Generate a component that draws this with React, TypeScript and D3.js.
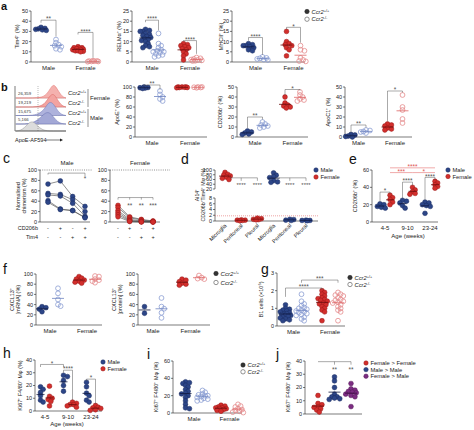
import React from 'react';
import * as d3 from 'd3';

// ---------------- data ----------------
const sexes = ['Male', 'Female'];
const genotypes = ['Ccr2+/+', 'Ccr2-/-'];

// a
const tim4MaleWT = [34, 33, 32.5, 32, 31, 31.5];
const tim4MaleKO = [22, 19, 17, 15, 13, 12, 16];
const tim4FemaleWT = [15, 14, 13.5, 13, 12, 12, 11, 11, 10, 10.5, 12.5, 14];
const tim4FemaleKO = [1, 0.8, 0.5, 0.6, 0.3, 1.2, 0.9];
const relmMaleWT = [16, 15, 15, 14, 13.5, 13, 12.5, 12, 11, 10.5, 10, 9, 8, 7.5, 7, 15.5, 11.5];
const relmMaleKO = [14, 9, 8, 7, 6, 5.5, 5, 4.5, 4, 3.5, 3, 2.5, 5];
const relmFemaleWT = [9, 8.5, 8, 7.5, 7, 6.5, 6, 5, 4, 3, 1];
const relmFemaleKO = [1.5, 1.2, 1, 0.8, 0.6, 0.5, 1.8, 2.2];
const mhcMaleWT = [9, 8.5, 8, 8, 7.5, 7, 6, 5.5];
const mhcMaleKO = [2.5, 2, 1.8, 1.5, 1.2, 1];
const mhcFemaleWT = [15, 10, 9, 8.5, 8, 7, 6, 3];
const mhcFemaleKO = [8, 6, 5.5, 2, 1, 0.5, 0.3];

// b
const histCounts = ['26,359', '19,219', '15,675', '5,166'];
const histRowGenotype = ['Ccr2+/+', 'Ccr2-/-', 'Ccr2+/+', 'Ccr2-/-'];
const histFemaleWT = [0, 0, 0, 0, 0, 0.02, 0.05, 0.15, 0.5, 1, 0.55, 0.1, 0];
const histFemaleKO = [0, 0, 0, 0, 0, 0.03, 0.08, 0.25, 0.7, 0.95, 0.45, 0.08, 0];
const histMaleWT = [0, 0, 0, 0, 0.02, 0.08, 0.2, 0.5, 0.95, 0.8, 0.3, 0.05, 0];
const histMaleKO = [0, 0, 0, 0.03, 0.1, 0.25, 0.5, 0.8, 0.85, 0.5, 0.15, 0.02, 0];
const histControl = [0, 0.05, 0.3, 0.8, 1, 0.6, 0.2, 0.05, 0, 0, 0, 0, 0];
const apoeMaleWT = [100, 99, 98, 97, 98.5];
const apoeMaleKO = [92, 85, 80, 76, 72];
const apoeFemaleWT = [100, 99.5, 99, 100, 98.5, 99, 100];
const apoeFemaleKO = [100, 99, 99.5, 98.5, 100];
const cd206bMaleWT = [6, 5, 4, 3, 2.5];
const cd206bMaleKO = [15, 13, 12, 11, 10, 9];
const cd206bFemaleWT = [40, 34, 32, 31, 30, 29];
const cd206bFemaleKO = [45, 42, 40, 38, 37, 36];
const apoc1MaleWT = [2.5, 2, 1, 0.5, 0];
const apoc1MaleKO = [7, 6.5, 5.5, 5, 4];
const apoc1FemaleWT = [13, 12, 11, 9, 8, 7];
const apoc1FemaleKO = [42, 30, 27, 18, 14];

// c
const chimConditions = ['c1', 'c2', 'c3', 'c4'];
const cd206bSigns = ['-', '+', '-', '+'];
const tim4Signs = ['-', '-', '+', '+'];
const chimMale = [
  [73, 79, 49, 30],
  [55, 53, 43, 20],
  [52, 50, 36, 11],
  [41, 25, 22, 9],
  [38, 24, 22, 8],
];
const chimFemale = [
  [32, 10, 5, 2],
  [28, 8, 4, 1],
  [22, 5, 2, 1],
  [18, 3, 1, 0.5],
  [14, 2, 0.5, 0],
  [10, 1, 0, 0],
];

// d
const ai14Cats = ['Microglia', 'Peritoneal', 'Pleural'];
const ai14Female = [
  [90, 82, 78, 75, 70, 65, 60],
  [0.3, 0.2, 0.4, 0.1, 0.3],
  [0.8, 0.5, 1.0, 0.4, 0.6],
];
const ai14Male = [
  [88, 78, 72, 68, 55, 50, 48],
  [0.5, 0.3, 0.6, 0.2],
  [0.2, 0.1, 0.3, 0.2],
];
const ai14Threshold = 1.8;

// e
const ages = ['4-5', '9-10', '23-24'];
const cd206bAgeMale = [
  [21, 20, 18, 17, 16],
  [25, 24, 22, 19, 16],
  [23, 22, 20, 19, 18, 10],
];
const cd206bAgeFemale = [
  [31, 28, 26, 23, 20],
  [40, 37, 35, 33, 32],
  [47, 45, 43, 41, 39],
];

// f
const cxclMrnaMaleWT = [36, 34, 31, 26];
const cxclMrnaMaleKO = [72, 62, 50, 40, 37];
const cxclMrnaFemaleWT = [95, 92, 90, 88, 86, 84, 82];
const cxclMrnaFemaleKO = [96, 95, 90, 88, 86, 83];
const cxclProtMaleWT = [36, 23];
const cxclProtMaleKO = [53, 36, 32, 24, 14];
const cxclProtFemaleWT = [90, 88, 85, 82, 80, 78];
const cxclProtFemaleKO = [97, 93, 91, 90];

// g
const b1MaleWT = [1.2, 1.0, 0.95, 0.9, 0.85, 0.8, 0.75, 0.7, 0.65, 0.6, 0.55, 0.5, 0.45, 0.4, 0.35, 0.3, 0.6, 0.7];
const b1MaleKO = [1.8, 1.4, 1.25, 1.15, 1.05, 1.0, 0.95, 0.9, 0.85, 0.8, 0.75, 0.7, 0.65, 0.6, 0.5, 0.4, 0.3];
const b1FemaleWT = [2.0, 1.9, 1.8, 1.7, 1.6, 1.55, 1.5, 1.45, 1.4, 1.3, 1.25, 1.2, 1.1, 1.0, 0.9, 0.8, 0.3];
const b1FemaleKO = [1.9, 1.8, 1.75, 1.7, 1.6, 1.5, 1.45, 1.4, 1.35, 1.3, 1.2, 1.1, 1.0, 0.9, 0.8, 0.3];

// h
const ki67AgeMale = [
  [19, 17, 14.5, 12, 8.5, 7],
  [28, 27, 24, 20, 15.5],
  [22.5, 19, 14, 12, 8.5, 7],
];
const ki67AgeFemale = [
  [19.5, 11.5, 10, 9, 7.5, 4],
  [7, 6, 5, 5, 4, 3],
  [4.3, 3, 2.5, 2, 1, 0.5],
];

// i
const ki67MaleWT = [36, 35, 34, 32, 30, 27, 25, 23, 22, 20, 18, 14, 10, 6, 5];
const ki67MaleKO = [26, 24, 22, 21, 20, 19, 18, 17, 16, 15, 14, 20];
const ki67FemaleWT = [9, 8, 7, 6, 6, 5, 5, 4, 3, 2];
const ki67FemaleKO = [10, 8, 7, 5, 4, 3, 2, 1, 0.5];

// j
const transferGroups = ['Female > Female', 'Male > Male', 'Female > Male'];
const ki67Transfer = [
  [14, 8, 7, 5.5, 5, 4, 3, 1.5],
  [28, 25, 20, 15, 13, 12, 11, 11.5, 13],
  [23, 19, 18, 17, 16.5, 16, 15, 14, 13, 5.6],
];

// ---------------- styles ----------------
const FONT = '"Liberation Sans", Arial, Helvetica, sans-serif';
const NAVY = '#2c4587';
const NAVY_S = '#1a2c63';
const LBLUE = '#8b9ed3';
const RED = '#d22f2c';
const RED_S = '#9a1717';
const PINK = '#e58a8b';
const PURPLE = '#7c2d82';
const PURPLE_S = '#561a5b';
const AX = '#222';

type Sty = { fill?: string; stroke: string; open?: boolean; line: string };
const sNavy: Sty = { fill: NAVY, stroke: NAVY_S, line: '#111a40' };
const sLBlue: Sty = { open: true, stroke: LBLUE, line: '#6f84c0' };
const sRed: Sty = { fill: RED, stroke: RED_S, line: '#6a0c0c' };
const sPink: Sty = { open: true, stroke: PINK, line: '#d66' };
const sPurple: Sty = { fill: PURPLE, stroke: PURPLE_S, line: '#3a0d3e' };
const sBlack: Sty = { fill: '#333', stroke: '#222', line: '#222' };
const sGrey: Sty = { open: true, stroke: '#666', line: '#666' };

// ---------------- helpers ----------------
function swarm(vals: number[], cx: number, y: (v: number) => number, r: number) {
  const pts = vals.map((v) => ({ v, py: y(v) })).sort((a, b) => a.py - b.py);
  const placed: { x: number; y: number }[] = [];
  const minD = r * 1.25;
  const step = r * 0.55;
  const maxK = 8;
  for (const p of pts) {
    let bestX = cx;
    let bestD = -1;
    for (let k = 0; k <= maxK; k++) {
      const off = k === 0 ? 0 : (k % 2 ? 1 : -1) * Math.ceil(k / 2) * step;
      const cand = cx + off;
      const d = placed.length ? Math.min(...placed.map((q) => Math.hypot(q.x - cand, q.y - p.py))) : Infinity;
      if (d >= minD) {
        bestX = cand;
        bestD = d;
        break;
      }
      if (d > bestD) {
        bestD = d;
        bestX = cand;
      }
    }
    placed.push({ x: bestX, y: p.py });
  }
  return placed;
}

function Dots({ vals, cx, y, c, r = 2.4, mean = true, mw = 6 }: any) {
  const pts = swarm(vals, cx, y, r);
  const m = d3.mean(vals) as number;
  return (
    <g>
      {pts.map((p, i) => (
        <circle key={i} cx={p.x} cy={p.y} r={r} fill={c.open ? 'none' : c.fill} stroke={c.stroke} strokeWidth={c.open ? 0.8 : 0.5} />
      ))}
      {mean && <line x1={cx - mw} x2={cx + mw} y1={y(m)} y2={y(m)} stroke={c.line} strokeWidth={0.8} />}
    </g>
  );
}

function YAxis({ x, y, ticks, fmt = (d: number) => String(d) }: any) {
  const ext = d3.extent(ticks as number[]) as [number, number];
  return (
    <g>
      <line x1={x} x2={x} y1={y(ext[0])} y2={y(ext[1])} stroke={AX} strokeWidth={0.6} />
      {ticks.map((t: number) => (
        <g key={t}>
          <line x1={x - 2} x2={x} y1={y(t)} y2={y(t)} stroke={AX} strokeWidth={0.6} />
          <text x={x - 3} y={y(t)} dy="0.35em" textAnchor="end" fontSize={5.5} fill="#222">
            {fmt(t)}
          </text>
        </g>
      ))}
    </g>
  );
}

function YLabel({ x, y, lines, fs = 5.5 }: any) {
  return (
    <text transform={`translate(${x},${y}) rotate(-90)`} textAnchor="middle" fontSize={fs} fill="#222">
      {lines.map((l: string, i: number) => (
        <tspan key={i} x={0} dy={i === 0 ? -(lines.length - 1) * 3.3 : 6.6}>
          {l}
        </tspan>
      ))}
    </text>
  );
}

function Bracket({ x1, x2, yy, y1e, y2e, text, color = '#555', tx }: any) {
  return (
    <g>
      <path d={`M${x1},${y1e}V${yy}H${x2}V${y2e}`} fill="none" stroke={color} strokeWidth={0.5} />
      {text && (
        <text x={tx ?? (x1 + x2) / 2} y={yy + 1.2} textAnchor="middle" fontSize={6.5} fill={color}>
          {text}
        </text>
      )}
    </g>
  );
}

function GenoLabel({ g }: { g: string }) {
  const sup = g.replace('Ccr2', '');
  return (
    <>
      <tspan fontStyle="italic">Ccr2</tspan>
      <tspan dy={-2} fontSize={3.8}>
        {sup}
      </tspan>
    </>
  );
}

function Legend({ x, y, items, dy = 7, fs = 5.8 }: any) {
  return (
    <g>
      {items.map((it: any, i: number) => (
        <g key={i}>
          <circle cx={x} cy={y + i * dy} r={2.2} fill={it.s.open ? 'white' : it.s.fill} stroke={it.s.stroke} strokeWidth={it.s.open ? 0.7 : 0.5} />
          <text x={x + 4.5} y={y + i * dy} dy="0.35em" fontSize={fs} fill="#222">
            {it.geno ? <GenoLabel g={it.label} /> : it.label}
          </text>
        </g>
      ))}
    </g>
  );
}

function sexGenoX(centers: [number, number], off: number) {
  const s = d3.scalePoint<string>().domain(sexes).range(centers);
  const out: number[] = [];
  sexes.forEach((sx) => genotypes.forEach((_, gi) => out.push((s(sx) as number) + (gi === 0 ? -off : off))));
  return { xs: out, cats: sexes.map((sx) => ({ text: sx, x: s(sx) as number })) };
}

function ageSexX(range: [number, number], off: number) {
  const s = d3.scalePoint<string>().domain(ages).range(range);
  const out: number[] = [];
  ages.forEach((a) => sexes.forEach((_, si) => out.push((s(a) as number) + (si === 0 ? -off : off))));
  return { xs: out, cats: ages.map((a) => ({ text: a, x: s(a) as number })) };
}

function DotPanel({ axisX, xEnd, yTop, yBot, max, ticks, xs, cats, groups, sigs = [], ylabel, ylx, fmt, mw = 6 }: any) {
  const y = d3.scaleLinear().domain([0, max]).range([yBot, yTop]);
  return (
    <g>
      <YAxis x={axisX} y={y} ticks={ticks} fmt={fmt} />
      <line x1={axisX} x2={xEnd} y1={yBot} y2={yBot} stroke={AX} strokeWidth={0.6} />
      {cats.map((c: any, i: number) => (
        <text key={i} x={c.x} y={yBot + 8} textAnchor="middle" fontSize={6} fill="#222">
          {c.text}
        </text>
      ))}
      {groups.map((g: any, i: number) => (
        <Dots key={i} vals={g.vals} cx={xs[i]} y={y} c={g.s} mw={mw} />
      ))}
      {sigs.map((s: any, i: number) => (
        <Bracket key={i} x1={xs[s.a]} x2={xs[s.b]} yy={y(s.v)} y1e={y(s.ea)} y2e={y(s.eb)} text={s.text} color={s.color} />
      ))}
      <YLabel x={ylx} y={(yTop + yBot) / 2} lines={ylabel} />
    </g>
  );
}

function PanelLetter({ x, y, t, bold = false, fs = 14 }: any) {
  return (
    <text x={x} y={y} fontSize={fs} fontWeight={bold ? 'bold' : 'normal'} fill="#111">
      {t}
    </text>
  );
}

// ---------------- panel b histogram ----------------
function Histogram() {
  const x0 = 15;
  const x1 = 66;
  const kx = d3.scaleLinear().domain([0, histFemaleWT.length - 1]).range([x0 + 1, x1]);
  const rows = [
    { d: histFemaleWT, base: 98, h: 15, fill: '#f4b1ae', stroke: '#e06a66' },
    { d: histFemaleKO, base: 107, h: 15, fill: '#f2a3a0', stroke: '#d9605c' },
    { d: histMaleWT, base: 115.5, h: 15, fill: '#aeb2dc', stroke: '#6d74b6' },
    { d: histMaleKO, base: 124, h: 14, fill: '#a3a8d6', stroke: '#666eb0' },
  ];
  const ctrl = { d: histControl, base: 131, h: 10, fill: '#dcdcdc', stroke: '#999' };
  const mk = (r: any) =>
    d3
      .area<number>()
      .x((_, i) => kx(i))
      .y0(r.base)
      .y1((v) => r.base - v * r.h)
      .curve(d3.curveBasis)(r.d) as string;
  return (
    <g>
      {rows.map((r, i) => (
        <g key={i}>
          <line x1={x0} x2={x1} y1={r.base} y2={r.base} stroke="#999" strokeWidth={0.4} />
        </g>
      ))}
      {rows.map((r, i) => (
        <path key={'p' + i} d={mk(r)} fill={r.fill} stroke={r.stroke} strokeWidth={0.5} />
      ))}
      <path d={mk(ctrl)} fill={ctrl.fill} stroke={ctrl.stroke} strokeWidth={0.5} />
      <line x1={38} x2={38} y1={86} y2={131} stroke="#777" strokeWidth={0.5} strokeDasharray="1,1" />
      <line x1={x0} x2={x0} y1={86} y2={131} stroke={AX} strokeWidth={0.6} />
      <line x1={x0} x2={x1} y1={131} y2={131} stroke={AX} strokeWidth={0.6} />
      {histCounts.map((c, i) => (
        <text key={c} x={18} y={rows[i].base - 3} fontSize={4.3} fill="#333">
          {c}
        </text>
      ))}
      {histRowGenotype.map((g, i) => (
        <text key={i} x={68} y={93 + i * 10} dy="0.35em" fontSize={6} fill="#222">
          <GenoLabel g={g} />
        </text>
      ))}
      <line x1={88} x2={88} y1={89} y2={107} stroke="#222" strokeWidth={0.5} />
      <line x1={88} x2={88} y1={109} y2={127} stroke="#222" strokeWidth={0.5} />
      <text x={90} y={98} dy="0.35em" fontSize={6} fill="#222">Female</text>
      <text x={90} y={118} dy="0.35em" fontSize={6} fill="#222">Male</text>
      <text x={15} y={142} fontSize={5.5} fill="#222">ApoE-AF594</text>
      <line x1={46} x2={60} y1={140} y2={140} stroke="#222" strokeWidth={0.6} />
      <path d="M60,138.6 L63,140 L60,141.4 Z" fill="#222" />
    </g>
  );
}

// ---------------- panel c ----------------
function ChimPanel({ axisX, xEnd, range, data, s, title, titleX, dotEnd, sig }: any) {
  const y = d3.scaleLinear().domain([0, 100]).range([222, 170]);
  const x = d3.scalePoint<string>().domain(chimConditions).range(range);
  const line = d3
    .line<number>()
    .x((_, i) => x(chimConditions[i]) as number)
    .y((v) => y(v));
  return (
    <g>
      <YAxis x={axisX} y={y} ticks={[0, 20, 40, 60, 80, 100]} />
      <line x1={axisX} x2={xEnd} y1={222} y2={222} stroke={AX} strokeWidth={0.6} />
      <line x1={axisX} x2={dotEnd} y1={y(100)} y2={y(100)} stroke="#444" strokeWidth={0.6} strokeDasharray="1,1.2" />
      <text x={titleX} y={165} textAnchor="middle" fontSize={6} fill="#222">{title}</text>
      {data.map((d: number[], i: number) => (
        <path key={i} d={line(d) as string} fill="none" stroke="#444" strokeWidth={0.6} />
      ))}
      {data.map((d: number[], i: number) =>
        d.map((v, j) => <circle key={i + '-' + j} cx={x(chimConditions[j])} cy={y(v)} r={2.4} fill={s.fill} stroke={s.stroke} strokeWidth={0.5} />)
      )}
      {sig.kind === 'single' && (
        <g>
          <path d={`M${x('c1')},${y(sig.v) + 1.5}V${y(sig.v)}H${x('c4')}V${y(sig.ve)}`} fill="none" stroke="#555" strokeWidth={0.5} />
          <text x={x('c4')} y={y(sig.sv) + 1.2} textAnchor="middle" fontSize={6.5} fill="#555">{sig.text}</text>
        </g>
      )}
      {sig.kind === 'multi' && (
        <g>
          <path d={`M${x('c1')},${y(sig.ve)}V${y(sig.v)}H${x('c4')}`} fill="none" stroke="#555" strokeWidth={0.5} />
          {['c2', 'c3', 'c4'].map((k, i) => (
            <g key={k}>
              <line x1={x(k)} x2={x(k)} y1={y(sig.v)} y2={y(sig.ve)} stroke="#555" strokeWidth={0.5} />
              <text x={x(k)} y={y(sig.sv) + 1.2} textAnchor="middle" fontSize={6.5} fill="#555">{sig.texts[i]}</text>
            </g>
          ))}
        </g>
      )}
      {chimConditions.map((k, i) => (
        <g key={k}>
          <text x={x(k)} y={228} dy="0.35em" textAnchor="middle" fontSize={5.5} fill="#222">{cd206bSigns[i]}</text>
          <text x={x(k)} y={237} dy="0.35em" textAnchor="middle" fontSize={5.5} fill="#222">{tim4Signs[i]}</text>
        </g>
      ))}
    </g>
  );
}

// ---------------- panel d ----------------
function Ai14Panel() {
  const axisX = 215;
  const yT = d3.scaleLinear().domain([20, 100]).range([189, 170]);
  const yB = d3.scaleLinear().domain([0, 8]).range([221, 198]);
  const yv = (v: number) => (v > 10 ? yT(v) : yB(v));
  const keys: string[] = [];
  ['F', 'M'].forEach((s) => ai14Cats.forEach((c) => keys.push(s + c)));
  const x = d3.scalePoint<string>().domain(keys).range([225, 306]);
  const groups = [
    ...ai14Female.map((vals) => ({ vals, s: sRed })),
    ...ai14Male.map((vals) => ({ vals, s: sNavy })),
  ];
  const brk = (k0: string, k1: string, k2: string) => {
    const yy = yT(67);
    return (
      <g>
        <path d={`M${(x(k0) as number) + 5},${yy}H${x(k2)}`} stroke="#555" strokeWidth={0.5} fill="none" />
        {[k1, k2].map((k) => (
          <g key={k}>
            <line x1={x(k)} x2={x(k)} y1={yy} y2={yy + 3} stroke="#555" strokeWidth={0.5} />
            <text x={x(k)} y={yy + 9} textAnchor="middle" fontSize={6} fill="#555">****</text>
          </g>
        ))}
      </g>
    );
  };
  return (
    <g>
      <YAxis x={axisX} y={yT} ticks={[20, 40, 60, 80, 100]} />
      <YAxis x={axisX} y={yB} ticks={[0, 2, 4, 6, 8]} />
      <line x1={axisX} x2={318} y1={yB(0)} y2={yB(0)} stroke={AX} strokeWidth={0.6} />
      <line x1={axisX} x2={318} y1={yB(ai14Threshold)} y2={yB(ai14Threshold)} stroke="#e06666" strokeWidth={0.6} strokeDasharray="1,1" />
      {groups.map((g, i) => (
        <Dots key={i} vals={g.vals.map(yv)} cx={x(keys[i])} y={(p: number) => p} c={g.s} mean={false} />
      ))}
      {groups.map((g, i) => {
        const m = d3.mean(g.vals) as number;
        return <line key={'m' + i} x1={(x(keys[i]) as number) - 6} x2={(x(keys[i]) as number) + 6} y1={yv(m)} y2={yv(m)} stroke={g.s.line} strokeWidth={0.8} />;
      })}
      {brk('FMicroglia', 'FPeritoneal', 'FPleural')}
      {brk('MMicroglia', 'MPeritoneal', 'MPleural')}
      {keys.map((k, i) => (
        <text key={k} transform={`translate(${(x(k) as number) + 2},${226}) rotate(-45)`} textAnchor="end" fontSize={5.5} fill="#222">
          {ai14Cats[i % 3]}
        </text>
      ))}
      <YLabel x={202} y={195} lines={['Ai14⁺', 'CD206b⁺Tim4⁺ Mφ (%)']} fs={5.2} />
      <Legend x={316} y={170} items={[{ label: 'Male', s: sNavy }, { label: 'Female', s: sRed }]} />
    </g>
  );
}

// ---------------- panel j ----------------
function TransferPanel() {
  const axisX = 305;
  const y = d3.scaleLinear().domain([0, 40]).range([414, 361]);
  const x = d3.scalePoint<string>().domain(transferGroups).range([318, 351]);
  const styles = [sRed, sNavy, sPurple];
  const yy = y(39.5);
  return (
    <g>
      <YAxis x={axisX} y={y} ticks={[0, 10, 20, 30, 40]} />
      <line x1={axisX} x2={362} y1={414} y2={414} stroke={AX} strokeWidth={0.6} />
      {transferGroups.map((g, i) => (
        <Dots key={g} vals={ki67Transfer[i]} cx={x(g)} y={y} c={styles[i]} />
      ))}
      <path d={`M${x(transferGroups[0])},${yy}H${x(transferGroups[2])}`} stroke="#555" strokeWidth={0.5} fill="none" />
      {transferGroups.slice(1).map((g) => (
        <g key={g}>
          <line x1={x(g)} x2={x(g)} y1={yy} y2={yy + 3} stroke="#555" strokeWidth={0.5} />
          <text x={x(g)} y={y(32.4) + 1.2} textAnchor="middle" fontSize={6.5} fill="#555">**</text>
        </g>
      ))}
      <YLabel x={290} y={387} lines={['Ki67⁺ F4/80⁺ Mφ (%)']} />
      <Legend x={366} y={363} dy={6.6} items={transferGroups.map((g, i) => ({ label: g, s: styles[i] }))} />
    </g>
  );
}

// ---------------- App ----------------
export default function App() {
  const a1 = sexGenoX([48.5, 85.5], 7.5);
  const a2 = sexGenoX([152, 190], 6.5);
  const a3 = sexGenoX([255.5, 293.5], 7);
  const bApoE = sexGenoX([152, 190], 8);
  const bCd = sexGenoX([255, 292.5], 7.5);
  const bApoC = sexGenoX([358.5, 395], 7.5);
  const f1 = sexGenoX([50, 87], 8);
  const f2 = sexGenoX([153, 190.5], 8.5);
  const gg = sexGenoX([293.5, 330], 8);
  const ii = sexGenoX([194, 229.5], 8.5);
  const ee = ageSexX([385, 430], 5);
  const hh = ageSexX([45, 91], 4.5);
  const four = (a: number[], b: number[], c: number[], d: number[]) => [
    { vals: a, s: sNavy },
    { vals: b, s: sLBlue },
    { vals: c, s: sRed },
    { vals: d, s: sPink },
  ];
  const byAge = (m: number[][], f: number[][]) => {
    const out: any[] = [];
    ages.forEach((_, i) => {
      out.push({ vals: m[i], s: sNavy });
      out.push({ vals: f[i], s: sRed });
    });
    return out;
  };
  const ccrLegend = [
    { label: genotypes[0], s: sBlack, geno: true },
    { label: genotypes[1], s: sGrey, geno: true },
  ];
  const sexLegend = [
    { label: 'Male', s: sNavy },
    { label: 'Female', s: sRed },
  ];
  return (
    <svg width={474} height={430} style={{ position: 'absolute', left: 0, top: 0, background: 'white' }} fontFamily={FONT}>
      <rect width={474} height={430} fill="white" />
      {/* a */}
      <PanelLetter x={1} y={10} t="a" bold fs={11} />
      <DotPanel axisX={31} xEnd={100} yTop={11} yBot={62} max={50} ticks={[0, 10, 20, 30, 40, 50]} xs={a1.xs} cats={a1.cats}
        groups={four(tim4MaleWT, tim4MaleKO, tim4FemaleWT, tim4FemaleKO)}
        sigs={[{ a: 0, b: 1, v: 41, ea: 38.5, eb: 25, text: '**' }, { a: 2, b: 3, v: 29, ea: 27, eb: 4, text: '****' }]}
        ylabel={['Tim4⁺ (%)']} ylx={19} />
      <DotPanel axisX={132} xEnd={202} yTop={11} yBot={62} max={25} ticks={[0, 5, 10, 15, 20, 25]} xs={a2.xs} cats={a2.cats}
        groups={four(relmMaleWT, relmMaleKO, relmFemaleWT, relmFemaleKO)}
        sigs={[{ a: 0, b: 1, v: 20.5, ea: 19.5, eb: 15.5, text: '****' }, { a: 2, b: 3, v: 10.5, ea: 10, eb: 4, text: '****' }]}
        ylabel={['RELMα⁺ (%)']} ylx={121} />
      <DotPanel axisX={232} xEnd={305} yTop={11} yBot={62} max={25} ticks={[0, 5, 10, 15, 20, 25]} xs={a3.xs} cats={a3.cats}
        groups={four(mhcMaleWT, mhcMaleKO, mhcFemaleWT, mhcFemaleKO)}
        sigs={[{ a: 0, b: 1, v: 12, ea: 10.5, eb: 3.5, text: '****' }, { a: 2, b: 3, v: 17, ea: 16, eb: 9.5, text: '*' }]}
        ylabel={['MHCII⁺ (%)']} ylx={223} />
      <Legend x={307} y={11.5} dy={7.7} items={ccrLegend} />

      {/* b */}
      <PanelLetter x={1} y={91} t="b" bold fs={11} />
      <Histogram />
      <DotPanel axisX={135} xEnd={207} yTop={87} yBot={137} max={100} ticks={[0, 20, 40, 60, 80, 100]} xs={bApoE.xs} cats={bApoE.cats}
        groups={four(apoeMaleWT, apoeMaleKO, apoeFemaleWT, apoeFemaleKO)}
        sigs={[{ a: 0, b: 1, v: 104, ea: 102, eb: 95, text: '**' }]}
        ylabel={['ApoE⁺ (%)']} ylx={119} />
      <DotPanel axisX={237} xEnd={308} yTop={87} yBot={137} max={50} ticks={[0, 10, 20, 30, 40, 50]} xs={bCd.xs} cats={bCd.cats}
        groups={four(cd206bMaleWT, cd206bMaleKO, cd206bFemaleWT, cd206bFemaleKO)}
        sigs={[{ a: 0, b: 1, v: 20, ea: 9, eb: 17.5, text: '**' }, { a: 2, b: 3, v: 47.5, ea: 42, eb: 46.5, text: '*' }]}
        ylabel={['CD206b⁺ (%)']} ylx={222} />
      <DotPanel axisX={345} xEnd={412} yTop={87} yBot={137} max={50} ticks={[0, 10, 20, 30, 40, 50]} xs={bApoC.xs} cats={bApoC.cats}
        groups={four(apoc1MaleWT, apoc1MaleKO, apoc1FemaleWT, apoc1FemaleKO)}
        sigs={[{ a: 0, b: 1, v: 12, ea: 4.5, eb: 9.5, text: '**' }, { a: 2, b: 3, v: 46, ea: 15.5, eb: 44.5, text: '*' }]}
        ylabel={['ApoC1⁺ (%)']} ylx={330} />

      {/* c */}
      <PanelLetter x={3} y={163} t="c" />
      <YLabel x={23} y={196} lines={['Normalised', 'chimerism (%)']} />
      <ChimPanel axisX={40} xEnd={90} range={[48, 85]} data={chimMale} s={sNavy} title="Male" titleX={67} dotEnd={92}
        sig={{ kind: 'single', v: 94, ve: 88, sv: 82, text: '*' }} />
      <ChimPanel axisX={110} xEnd={160} range={[118, 153]} data={chimFemale} s={sRed} title="Female" titleX={140} dotEnd={170}
        sig={{ kind: 'multi', v: 47, ve: 43, sv: 29, texts: ['**', '**', '***'] }} />
      <text x={38} y={228} dy="0.35em" textAnchor="end" fontSize={5.5} fill="#222">CD206b</text>
      <text x={38} y={237} dy="0.35em" textAnchor="end" fontSize={5.5} fill="#222">Tim4</text>

      {/* d */}
      <PanelLetter x={181} y={164} t="d" />
      <Ai14Panel />

      {/* e */}
      <PanelLetter x={349} y={164} t="e" />
      <DotPanel axisX={372} xEnd={438} yTop={170} yBot={222} max={60} ticks={[0, 20, 40, 60]} xs={ee.xs} cats={ee.cats}
        groups={byAge(cd206bAgeMale, cd206bAgeFemale)}
        sigs={[
          { a: 0, b: 1, v: 34.5, ea: 24, eb: 32.5, text: '*' },
          { a: 2, b: 3, v: 46, ea: 27, eb: 42, text: '****' },
          { a: 4, b: 5, v: 51.5, ea: 25, eb: 48.5, text: '****' },
          { a: 1, b: 5, v: 62.5, ea: 62.5, eb: 62.5, text: '****', color: '#e05555' },
          { a: 1, b: 3, v: 57, ea: 57, eb: 57, text: '***', color: '#e05555' },
          { a: 3, b: 5, v: 57, ea: 57, eb: 57, text: '*', color: '#e05555' },
        ]}
        ylabel={['CD206b⁺ (%)']} ylx={357} mw={4} />
      <text x={408} y={238} textAnchor="middle" fontSize={6} fill="#222">Age (weeks)</text>
      <Legend x={448} y={170} dy={6.5} items={sexLegend} />

      {/* f */}
      <PanelLetter x={3} y={274} t="f" />
      <DotPanel axisX={36} xEnd={102} yTop={274} yBot={325} max={100} ticks={[0, 20, 40, 60, 80, 100]} xs={f1.xs} cats={f1.cats}
        groups={four(cxclMrnaMaleWT, cxclMrnaMaleKO, cxclMrnaFemaleWT, cxclMrnaFemaleKO)}
        ylabel={['CXCL13⁺', '[mRNA] (%)']} ylx={17} />
      <DotPanel axisX={138} xEnd={210} yTop={274} yBot={325} max={100} ticks={[0, 20, 40, 60, 80, 100]} xs={f2.xs} cats={f2.cats}
        groups={four(cxclProtMaleWT, cxclProtMaleKO, cxclProtFemaleWT, cxclProtFemaleKO)}
        ylabel={['CXCL13⁺', '[protein] (%)']} ylx={119} />
      <Legend x={216} y={273.5} dy={9} fs={6.2} items={ccrLegend} />

      {/* g */}
      <PanelLetter x={261} y={274} t="g" />
      <DotPanel axisX={277} xEnd={345} yTop={273} yBot={326} max={3} ticks={[0, 1, 2, 3]} xs={gg.xs} cats={gg.cats}
        groups={four(b1MaleWT, b1MaleKO, b1FemaleWT, b1FemaleKO)}
        sigs={[
          { a: 0, b: 2, v: 2.15, ea: 1.65, eb: 2.05, text: '****' },
          { a: 1, b: 3, v: 2.6, ea: 2.45, eb: 2.45, text: '***' },
        ]}
        ylabel={['B1 cells (×10⁵)']} ylx={263} />
      <Legend x={350} y={277.5} dy={7} items={ccrLegend} />

      {/* h */}
      <PanelLetter x={3} y={358} t="h" />
      <DotPanel axisX={35} xEnd={102} yTop={360} yBot={411} max={40} ticks={[0, 10, 20, 30, 40]} xs={hh.xs} cats={hh.cats}
        groups={byAge(ki67AgeMale, ki67AgeFemale)}
        sigs={[
          { a: 0, b: 2, v: 36.5, ea: 34.5, eb: 34.5, text: '*' },
          { a: 2, b: 3, v: 32, ea: 30, eb: 8.5, text: '****' },
          { a: 4, b: 5, v: 25, ea: 23.5, eb: 5.5, text: '*' },
        ]}
        ylabel={['Ki67⁺ F4/80⁺ Mφ (%)']} ylx={22} mw={4} />
      <text x={67} y={426} textAnchor="middle" fontSize={6} fill="#222">Age (weeks)</text>
      <Legend x={103} y={362} dy={6.8} items={sexLegend} />

      {/* i */}
      <PanelLetter x={147} y={359} t="i" />
      <DotPanel axisX={173} xEnd={242} yTop={361} yBot={413} max={60} ticks={[0, 20, 40, 60]} xs={ii.xs} cats={ii.cats}
        groups={four(ki67MaleWT, ki67MaleKO, ki67FemaleWT, ki67FemaleKO)}
        ylabel={['Ki67⁺ F4/80⁺ Mφ (%)']} ylx={158} />
      <Legend x={243} y={365} dy={6.8} items={ccrLegend} />

      {/* j */}
      <PanelLetter x={276} y={359} t="j" />
      <TransferPanel />
    </svg>
  );
}
